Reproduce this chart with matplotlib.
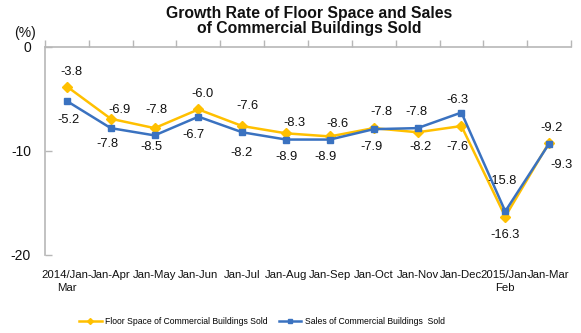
import matplotlib

matplotlib.use("Agg")
import matplotlib.pyplot as plt
import numpy as np

plt.rcParams["font.family"] = ["Liberation Sans", "DejaVu Sans"]

FLOOR_COLOR = "#FFC000"
SALES_COLOR = "#3A72C0"
AXIS_COLOR = "#B7B7B7"

periods = ["2014/Jan-\nMar", "Jan-Apr", "Jan-May", "Jan-Jun", "Jan-Jul", "Jan-Aug",
           "Jan-Sep", "Jan-Oct", "Jan-Nov", "Jan-Dec", "2015/Jan-\nFeb", "Jan-Mar"]
floor_space = [-3.8, -6.9, -7.8, -6.0, -7.6, -8.3, -8.6, -7.8, -8.2, -7.6, -16.3, -9.2]
sales = [-5.2, -7.8, -8.5, -6.7, -8.2, -8.9, -8.9, -7.9, -7.8, -6.3, -15.8, -9.3]

# label offsets in pixels (dx, dy), positive dy = upward
floor_offsets = [(5, 15), (9, 9), (2, 18), (4, 15), (5, 20), (8, 10), (8, 12),
                 (8, 16), (3, -15), (-4, -21), (0, -18), (2, 15)]
sales_offsets = [(2, -19), (-3, -16), (-3, -12), (-5, -18), (-1, -21), (0, -17),
                 (-4, -17), (-2, -18), (-1, 16), (-4, 13), (-3, 30), (12, -21)]

fig = plt.figure(figsize=(5.81, 3.33), dpi=100, facecolor="white")
ax = fig.add_axes([45 / 581, 1 - 255 / 333, 526 / 581, 208 / 333])

x = np.arange(len(periods))
ax.plot(x, floor_space, color=FLOOR_COLOR, lw=1.8, marker="D", ms=5,
        label="Floor Space of Commercial Buildings Sold", zorder=3)
ax.plot(x, sales, color=SALES_COLOR, lw=1.8, marker="s", ms=4.5,
        label="Sales of Commercial Buildings  Sold", zorder=4)

for xi, v, (dx, dy) in zip(x, floor_space, floor_offsets):
    ax.annotate(f"{v:.1f}", (xi, v), xytext=(dx, dy), textcoords="offset pixels",
                ha="center", va="center", fontsize=9.3, color="#111111")
for xi, v, (dx, dy) in zip(x, sales, sales_offsets):
    ax.annotate(f"{v:.1f}", (xi, v), xytext=(dx, dy), textcoords="offset pixels",
                ha="center", va="center", fontsize=9.3, color="#111111")

ax.set_xlim(-0.5, len(periods) - 0.5)
ax.set_ylim(-20, 0)
ax.set_yticks([0, -10, -20])
ax.set_yticklabels(["0", "-10", "-20"])

ax.set_xticks(x)
ax.set_xticklabels(periods, fontsize=8.2, linespacing=1.3)
ax.set_xticks(np.arange(len(periods) + 1) - 0.5, minor=True)
ax.tick_params(axis="x", which="major", length=0, pad=11, colors="#111111")
ax.tick_params(axis="x", which="minor", bottom=False, top=True, direction="out",
               length=5, color=AXIS_COLOR, width=1)
ax.tick_params(axis="y", direction="in", length=5, color=AXIS_COLOR, width=1,
               pad=10, labelsize=10, labelcolor="#111111")

for side in ["right", "bottom"]:
    ax.spines[side].set_visible(False)
for side in ["left", "top"]:
    ax.spines[side].set_color(AXIS_COLOR)
    ax.spines[side].set_linewidth(1.2)

fig.text(25 / 581, 1 - 33 / 333, "(%)", ha="center", va="center", fontsize=10, color="#111111")
fig.text(309 / 581, 1 - 21 / 333, "Growth Rate of Floor Space and Sales\nof Commercial Buildings Sold",
         ha="center", va="center", fontsize=11.3, fontweight="bold", linespacing=1.05, color="#111111")

fig.legend(loc="center", bbox_to_anchor=(262 / 581, 1 - 322 / 333), ncol=2, frameon=False,
           fontsize=6.2, handlelength=2.6, markerscale=0.6, columnspacing=1.3, handletextpad=0.4)

fig.savefig("out.png", dpi=100, facecolor="white")
